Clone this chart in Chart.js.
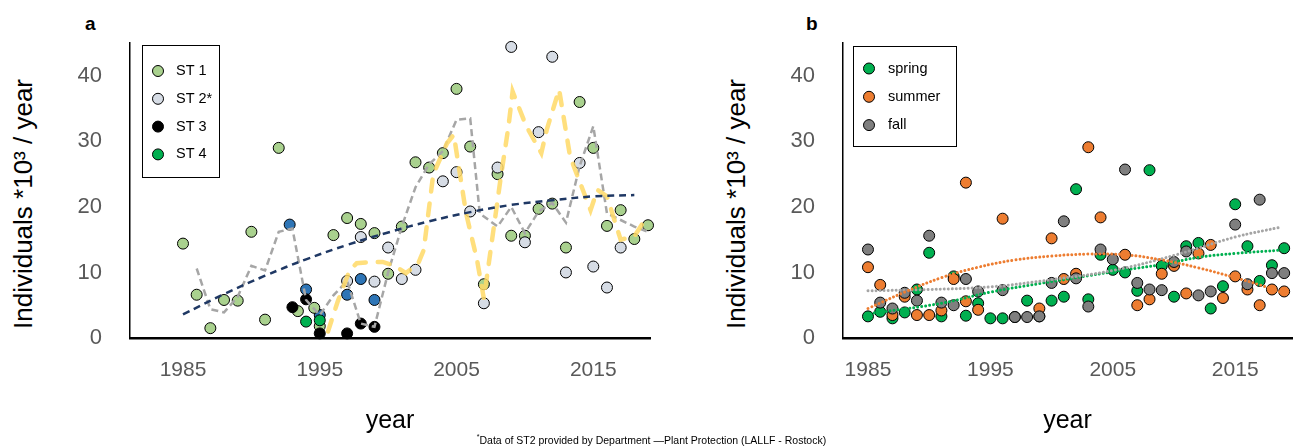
<!DOCTYPE html>
<html>
<head>
<meta charset="utf-8">
<script src="https://cdn.jsdelivr.net/npm/chart.js@4.4.0/dist/chart.umd.min.js"></script>
<style>
  body { margin: 0; background: #fff; font-family: "Liberation Sans", Arial, sans-serif; }
  #page { position: relative; width: 1303px; height: 446px; overflow: hidden; }
  .panel { position: absolute; top: 0; height: 446px; }
  .ytitle { position: absolute; top: 204px; transform: translate(-50%, -50%) rotate(-90deg); white-space: nowrap; font-size: 26px; color: #000; }
  .letter { position: absolute; top: 14px; font-weight: bold; font-size: 19px; line-height: 19px; }
  .note { position: absolute; top: 431px; left: 0; width: 1303px; text-align: center; font-size: 10.5px; line-height: 12px; }
  .note sup { font-size: 7px; }
</style>
</head>
<body>
<div id="page">
  <div class="letter" style="left:85px">a</div>
  <div class="letter" style="left:806px">b</div>
  <div class="ytitle" style="left:23px">Individuals *10³ / year</div>
  <div class="ytitle" style="left:736px">Individuals *10³ / year</div>
  <div class="panel" style="left:0;width:660px"><canvas id="chartA"></canvas></div>
  <div class="panel" style="left:703px;width:600px"><canvas id="chartB"></canvas></div>
  <div class="note"><sup>*</sup>Data of ST2 provided by Department —Plant Protection (LALLF - Rostock)</div>
</div>
<script>
// axis ticks
const yearTicks = [1985, 1995, 2005, 2015];
const valueTicks = [0, 10, 20, 30, 40];

// panel a - stations
const st1Years = [1985, 1986, 1987, 1988, 1989, 1990, 1991, 1992, 1993.4, 1994.6, 1995, 1996, 1997, 1998, 1999, 2000, 2001, 2002, 2003, 2004, 2005, 2006, 2007, 2008, 2009, 2010, 2011, 2012, 2013, 2014, 2015, 2016, 2017, 2018, 2019];
const st1Values = [14.4, 6.6, 1.5, 5.8, 5.7, 16.2, 2.8, 29.0, 4.1, 4.6, 1.8, 15.7, 18.3, 17.4, 16.0, 9.8, 17.0, 26.8, 26.0, 28.2, 38.0, 29.2, 8.2, 25.0, 15.6, 15.6, 19.7, 20.5, 13.8, 36.0, 29.0, 17.1, 19.5, 15.1, 17.2];
const st2Years = [1997, 1998, 1999, 2000, 2001, 2002, 2004, 2005, 2006, 2007, 2008, 2009, 2010, 2011, 2012, 2013, 2014, 2015, 2016, 2017];
const st2Values = [8.7, 15.4, 8.6, 13.8, 9.0, 10.4, 23.9, 25.3, 19.3, 5.3, 26.0, 44.4, 14.6, 31.4, 42.9, 10.0, 26.7, 10.9, 7.7, 13.8];
const st3Years = [1993, 1994, 1995, 1997, 1998, 1999];
const st3Values = [4.7, 5.9, 0.7, 0.7, 2.2, 1.7];
const st4Years = [1994, 1995];
const st4Values = [2.5, 2.7];
const st5Years = [1992.8, 1994, 1995, 1997, 1998, 1999];
const st5Values = [17.3, 7.4, 3.5, 6.6, 9.0, 5.8];

// panel a - lines
const meanYears = [1986, 1987, 1988, 1989, 1990, 1991, 1992, 1993, 1994, 1995, 1996, 1997, 1998, 1999, 2000, 2001, 2002, 2003, 2004, 2005, 2006, 2006.7, 2008, 2009, 2010, 2011, 2012, 2013, 2014, 2015, 2016, 2017, 2018, 2019];
const meanValues = [10.6, 4.4, 3.9, 6.3, 11.0, 10.3, 16.2, 16.7, 5.8, 3.5, 6.5, 8.7, 2.2, 1.7, 10.0, 17.0, 23.0, 26.5, 28.5, 33.3, 33.5, 19.0, 17.0, 20.0, 16.0, 19.3, 20.6, 17.6, 26.2, 32.3, 19.0, 18.0, 17.0, 16.2];
const st2MeanYears = [1995.6, 1996.3, 1997.2, 1997.7, 1998.8, 1999.6, 2000.5, 2001.3, 2002.2, 2002.6, 2003.3, 2004.3, 2004.8, 2005.7, 2006.5, 2007, 2008.2, 2008.8, 2009.1, 2010.1, 2011.2, 2011.6, 2012.5, 2013.3, 2014.8, 2015.3, 2016, 2017, 2018, 2019];
const st2MeanValues = [1.0, 5.5, 10.4, 11.4, 11.6, 11.6, 11.0, 9.9, 11.4, 13.4, 25.0, 29.7, 31.0, 19.0, 11.9, 6.0, 24.0, 32.3, 37.6, 32.3, 28.2, 31.8, 37.9, 27.7, 19.5, 22.6, 21.6, 15.0, 15.5, 18.8];
const trendYears = [1985, 1988, 1991, 1994, 1997, 2000, 2003, 2006, 2009, 2012, 2015, 2018];
const trendValues = [3.6, 6.7, 9.5, 12.0, 14.2, 16.1, 17.8, 19.2, 20.3, 21.0, 21.6, 21.8];

// panel b - seasons
const springYears = [1985, 1986, 1987, 1988, 1989, 1990, 1991, 1992, 1993, 1994, 1995, 1996, 1997, 1998, 1999, 2000, 2001, 2002, 2003, 2004, 2005, 2006, 2007, 2008, 2009, 2010, 2011, 2012, 2013, 2014, 2015, 2016, 2017, 2018, 2019];
const springValues = [3.3, 4.0, 3.0, 3.9, 7.4, 13.0, 3.3, 9.4, 3.4, 5.3, 3.0, 3.0, 3.2, 5.7, 3.3, 5.7, 6.3, 22.7, 5.9, 12.7, 10.4, 10.0, 7.2, 25.6, 11.0, 6.3, 14.0, 14.5, 4.5, 7.9, 20.4, 14.0, 8.7, 11.1, 13.7];
const summerYears = [1985, 1986, 1987, 1988, 1989, 1990, 1991, 1992, 1993, 1993, 1994, 1996, 1999, 2000, 2001, 2002, 2003, 2004, 2006, 2007, 2008, 2009, 2010, 2011, 2012, 2013, 2014, 2015, 2016, 2017, 2018, 2019];
const summerValues = [10.8, 8.1, 3.5, 6.3, 3.5, 3.5, 4.2, 9.0, 23.7, 5.6, 4.3, 18.2, 4.5, 15.2, 9.0, 9.8, 29.1, 18.4, 12.7, 5.0, 5.9, 9.8, 11.0, 6.8, 12.9, 14.2, 6.1, 9.4, 7.4, 5.0, 7.4, 7.1];
const fallYears = [1985, 1986, 1987, 1988, 1989, 1990, 1991, 1992, 1993, 1994, 1996, 1997, 1998, 1999, 2000, 2001, 2002, 2003, 2004, 2005, 2006, 2007, 2008, 2009, 2010, 2011, 2012, 2013, 2015, 2016, 2017, 2018, 2019];
const fallValues = [13.5, 5.4, 4.5, 6.9, 5.7, 15.6, 5.4, 5.0, 9.0, 7.1, 7.3, 3.2, 3.2, 3.3, 8.4, 17.8, 9.1, 4.8, 13.5, 12.0, 25.7, 8.4, 7.4, 7.3, 11.6, 13.2, 6.5, 7.1, 17.3, 8.2, 21.1, 9.9, 9.9];

// panel b - trend lines
const springTrendYears = [1985.5, 1991, 1995, 1999, 2003, 2006, 2009, 2012, 2015, 2018.7];
const springTrendValues = [3.8, 5.3, 7.0, 8.3, 9.5, 10.4, 11.2, 12.3, 12.9, 13.4];
const summerTrendYears = [1985, 1988, 1991, 1994, 1997, 2000, 2003, 2006, 2009, 2012, 2015, 2017, 2019];
const summerTrendValues = [4.5, 7.0, 9.2, 10.8, 11.9, 12.5, 12.8, 12.7, 11.9, 10.7, 9.2, 8.1, 6.8];
const fallTrendYears = [1985, 1990, 1995, 2000, 2005, 2010, 2015, 2018.7];
const fallTrendValues = [7.2, 7.4, 7.8, 8.9, 10.3, 12.6, 15.4, 16.9];

Chart.defaults.font.family = "'Liberation Sans', Arial, sans-serif";

// framed legend drawn inside the plot
const boxLegend = {
  id: 'boxLegend',
  afterDraw(chart, args, opts) {
    if (!opts || !opts.w) return;
    const ctx = chart.ctx;
    const items = chart.data.datasets.filter(d => d.inLegend);
    ctx.save();
    ctx.fillStyle = '#fff';
    ctx.fillRect(opts.x, opts.y, opts.w, opts.h);
    ctx.strokeStyle = '#000';
    ctx.lineWidth = 1;
    ctx.strokeRect(opts.x + 0.5, opts.y + 0.5, opts.w, opts.h);
    ctx.font = "14.5px 'Liberation Sans', Arial, sans-serif";
    ctx.textBaseline = 'middle';
    items.forEach((d, i) => {
      const cy = opts.y + opts.first + i * opts.step;
      ctx.beginPath();
      ctx.arc(opts.x + 16, cy, 5.5, 0, Math.PI * 2);
      ctx.fillStyle = d.backgroundColor;
      ctx.fill();
      ctx.strokeStyle = '#000';
      ctx.stroke();
      ctx.fillStyle = '#000';
      ctx.fillText(d.label, opts.x + opts.textX, cy);
    });
    ctx.restore();
  }
};

function dots(label, years, values, color, order, inLegend = true) {
  return {
    label: label,
    data: years.map((x, i) => ({ x: x, y: values[i] })),
    backgroundColor: color,
    borderColor: '#000',
    borderWidth: 1,
    pointRadius: 5.5,
    pointHoverRadius: 5.5,
    order: order,
    clip: false,
    inLegend: inLegend,
  };
}

function line(years, values, color, width, dash, cap, tension) {
  return {
    data: years.map((x, i) => ({ x: x, y: values[i] })),
    showLine: true,
    borderColor: color,
    borderWidth: width,
    borderDash: dash,
    borderCapStyle: cap,
    pointRadius: 0,
    tension: tension,
    order: 0,
    clip: false,
  };
}

function options(xMin, xMax, yWidth, padRight, legend) {
  return {
    animation: false,
    responsive: true,
    maintainAspectRatio: false,
    layout: { padding: { top: 43, right: padRight, left: 0, bottom: 0 } },
    plugins: {
      legend: { display: false },
      tooltip: { enabled: false },
      boxLegend: legend,
    },
    scales: {
      x: {
        type: 'linear',
        min: xMin,
        max: xMax,
        afterBuildTicks: s => { s.ticks = yearTicks.map(v => ({ value: v })); },
        afterFit: s => { s.height = 108; },
        grid: { display: false, drawTicks: false },
        border: { display: true, color: '#000', width: 2.5 },
        ticks: { color: '#595959', font: { size: 21 }, padding: 20, callback: v => String(v) },
        title: { display: true, text: 'year', color: '#000', font: { size: 25 }, padding: { top: 0, bottom: 10 } },
      },
      y: {
        min: 0,
        max: 45,
        afterBuildTicks: s => { s.ticks = valueTicks.map(v => ({ value: v })); },
        afterFit: s => { s.width = yWidth; },
        grid: { display: false, drawTicks: false },
        border: { display: true, color: '#000', width: 1.5 },
        ticks: { color: '#595959', font: { size: 22 }, padding: 28 },
      },
    },
  };
}

new Chart(document.getElementById('chartA'), {
  type: 'scatter',
  data: {
    datasets: [
      line(trendYears, trendValues, '#1f3864', 2.5, [7, 5], 'butt', 0.4),
      line(st2MeanYears, st2MeanValues, 'rgba(255, 217, 102, 0.85)', 4.5, [12, 12], 'round', 0),
      line(meanYears, meanValues, '#a6a6a6', 2.5, [7, 4], 'butt', 0),
      dots('ST 1', st1Years, st1Values, '#a9d18e', 4),
      dots('ST 2*', st2Years, st2Values, '#d6dce5', 1),
      dots('ST 3', st3Years, st3Values, '#000000', 2),
      dots('ST 4', st4Years, st4Values, '#00b050', 3),
      dots('ST 5', st5Years, st5Values, '#2e75b6', 5, false),
    ],
  },
  options: options(1981.125, 2019.146, 130, 10, { x: 142, y: 45, w: 77, h: 132, first: 26, step: 27.8, textX: 34 }),
  plugins: [boxLegend],
});

new Chart(document.getElementById('chartB'), {
  type: 'scatter',
  data: {
    datasets: [
      line(summerTrendYears, summerTrendValues, '#ed7d31', 3, [0.01, 4], 'round', 0.4),
      line(fallTrendYears, fallTrendValues, '#a5a5a5', 3, [0.01, 4], 'round', 0.4),
      line(springTrendYears, springTrendValues, '#00b050', 3, [0.01, 4], 'round', 0.4),
      dots('spring', springYears, springValues, '#00b050', 3),
      dots('summer', summerYears, summerValues, '#ed7d31', 2),
      dots('fall', fallYears, fallValues, '#7f7f7f', 1),
    ],
  },
  options: options(1982.96, 2019.64, 140, 11, { x: 150, y: 46, w: 103, h: 100, first: 22.5, step: 28.3, textX: 35 }),
  plugins: [boxLegend],
});
</script>
</body>
</html>
